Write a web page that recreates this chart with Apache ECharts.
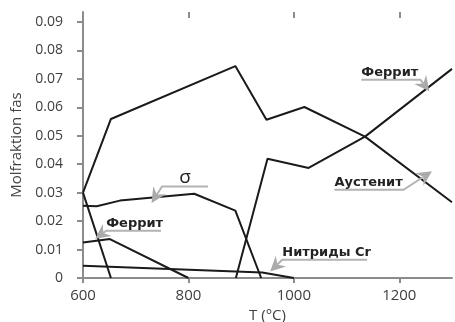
<!DOCTYPE html>
<html>
<head>
<meta charset="utf-8">
<script src="https://cdn.jsdelivr.net/npm/echarts@6/dist/echarts.min.js"></script>
<style>
html,body{margin:0;padding:0;background:#fff;}
#c{width:455px;height:322px;}
</style>
</head>
<body>
<div id="c"></div>
<script>
// ---- data (T in °C, mole fraction) ----
const xTickValues = [600, 800, 1000, 1200];
const yTickValues = [0, 0.01, 0.02, 0.03, 0.04, 0.05, 0.06, 0.07, 0.08, 0.09];
const topTickValues = [800, 1000, 1200];

const austenite = [[600,0.0300],[653,0.0559],[889,0.0745],[948,0.0556],[1020,0.0601],[1135,0.0497],[1300,0.0266]];
const ferriteHigh = [[600,0.0300],[653,0.0000]];
const ferriteRight = [[890,0.0000],[950,0.0419],[1028,0.0387],[1135,0.0497],[1300,0.0735]];
const sigma = [[600,0.0254],[626,0.0252],[670,0.0272],[811,0.0296],[889,0.0237],[938,0.0000]];
const ferriteLow = [[600,0.0125],[651,0.0137],[800,0.0000]];
const nitrides = [[600,0.0043],[940,0.0019],[1000,0.0000]];

// annotation labels: text, underline start, corner, arrow tip (data coords)
const annTexts = ['Феррит', 'Аустенит', 'σ', 'Феррит', 'Нитриды Cr'];
const annPaths = [
  [[1128,0.0697],[1240,0.0697],[1257,0.0656]],
  [[1077,0.0310],[1208,0.0310],[1262,0.0375]],
  [[837,0.0322],[750,0.0322],[730,0.0264]],
  [[748,0.0166],[644,0.0166],[623,0.0138]],
  [[1139,0.0064],[978,0.0064],[955,0.0023]]
];

const chart = echarts.init(document.getElementById('c'), null, {renderer:'canvas'});
const lineSeries = (d) => ({
  type:'line', data:d, symbol:'none', xAxisIndex:0, yAxisIndex:0,
  lineStyle:{color:'#1a1a1a', width:2}, animation:false, silent:true
});
const FONT = '"Open Sans", "DejaVu Sans", sans-serif';
const BOLD = '"DejaVu Sans", sans-serif';
chart.setOption({
  animation:false,
  grid:{left:83, right:3, top:12, bottom:44, containLabel:false, outerBoundsMode:'none'},
  xAxis:[{
    type:'value', min:600, max:1300, interval:200, position:'bottom',
    name:'T (°C)', nameLocation:'middle', nameGap:28,
    nameTextStyle:{fontFamily:FONT, fontSize:15, color:'#404040'},
    axisLine:{lineStyle:{color:'#8c8c8c', width:2}},
    axisTick:{show:true, inside:false, length:5, lineStyle:{color:'#8c8c8c', width:2}, customValues:xTickValues},
    axisLabel:{fontFamily:FONT, fontSize:15, color:'#404040', margin:10, customValues:xTickValues,
      formatter:(v)=> String(v)},
    splitLine:{show:false}
  },{
    type:'value', min:600, max:1300, interval:200, position:'top',
    axisLine:{show:false},
    axisTick:{show:true, inside:true, length:6, lineStyle:{color:'#8c8c8c', width:2}, customValues:topTickValues},
    axisLabel:{show:false},
    splitLine:{show:false}
  }],
  yAxis:{
    type:'value', min:0, max:0.0935, interval:0.01,
    name:'Molfraktion fas', nameLocation:'middle', nameGap:57,
    nameTextStyle:{fontFamily:FONT, fontSize:15, color:'#404040'},
    axisLine:{show:true, lineStyle:{color:'#8c8c8c', width:2}},
    axisTick:{show:true, inside:false, length:6, lineStyle:{color:'#8c8c8c', width:2}, customValues:yTickValues},
    axisLabel:{fontFamily:FONT, fontSize:14, color:'#404040', margin:20, customValues:yTickValues,
      formatter:(v)=> v===0 ? '0' : v.toFixed(2)},
    splitLine:{show:false}
  },
  series:[austenite, ferriteHigh, ferriteRight, sigma, ferriteLow, nitrides].map(lineSeries)
});

// annotations drawn from data coordinates
const toPx = (p) => chart.convertToPixel({xAxisIndex:0, yAxisIndex:0}, p);
const graphics = [];
annPaths.forEach((path, i) => {
  const pts = path.map(toPx);
  const a = pts[0], b = pts[1], t = pts[2];
  const dx = t[0]-b[0], dy = t[1]-b[1];
  const len = Math.hypot(dx, dy);
  const ux = dx/len, uy = dy/len, nx = -uy, ny = ux;
  const L = 15, W = 7.5, N = 5;
  const base = [t[0]-ux*(L-N), t[1]-uy*(L-N)];
  graphics.push({type:'polyline', shape:{points:[a, b, base]}, style:{stroke:'#b3b3b3', lineWidth:2, fill:null}, silent:true, z:10});
  graphics.push({type:'polygon', shape:{points:[
    t,
    [t[0]-ux*L+nx*W, t[1]-uy*L+ny*W],
    base,
    [t[0]-ux*L-nx*W, t[1]-uy*L-ny*W]
  ]}, style:{fill:'#aaaaaa'}, silent:true, z:10});
  const isSigma = annTexts[i] === 'σ';
  const left = Math.min(a[0], b[0]);
  const right = Math.max(a[0], b[0]);
  graphics.push({type:'text', silent:true, z:11,
    x: isSigma ? (left+right)/2 : left, y: isSigma ? a[1] + 1 : a[1]-1,
    style:{text:annTexts[i], fill:'#222', align: isSigma ? 'center' : 'left', verticalAlign:'bottom',
      font: isSigma ? ('19px ' + FONT) : ('bold 13px ' + BOLD)}
  });
});
chart.setOption({graphic:graphics});
</script>
</body>
</html>
